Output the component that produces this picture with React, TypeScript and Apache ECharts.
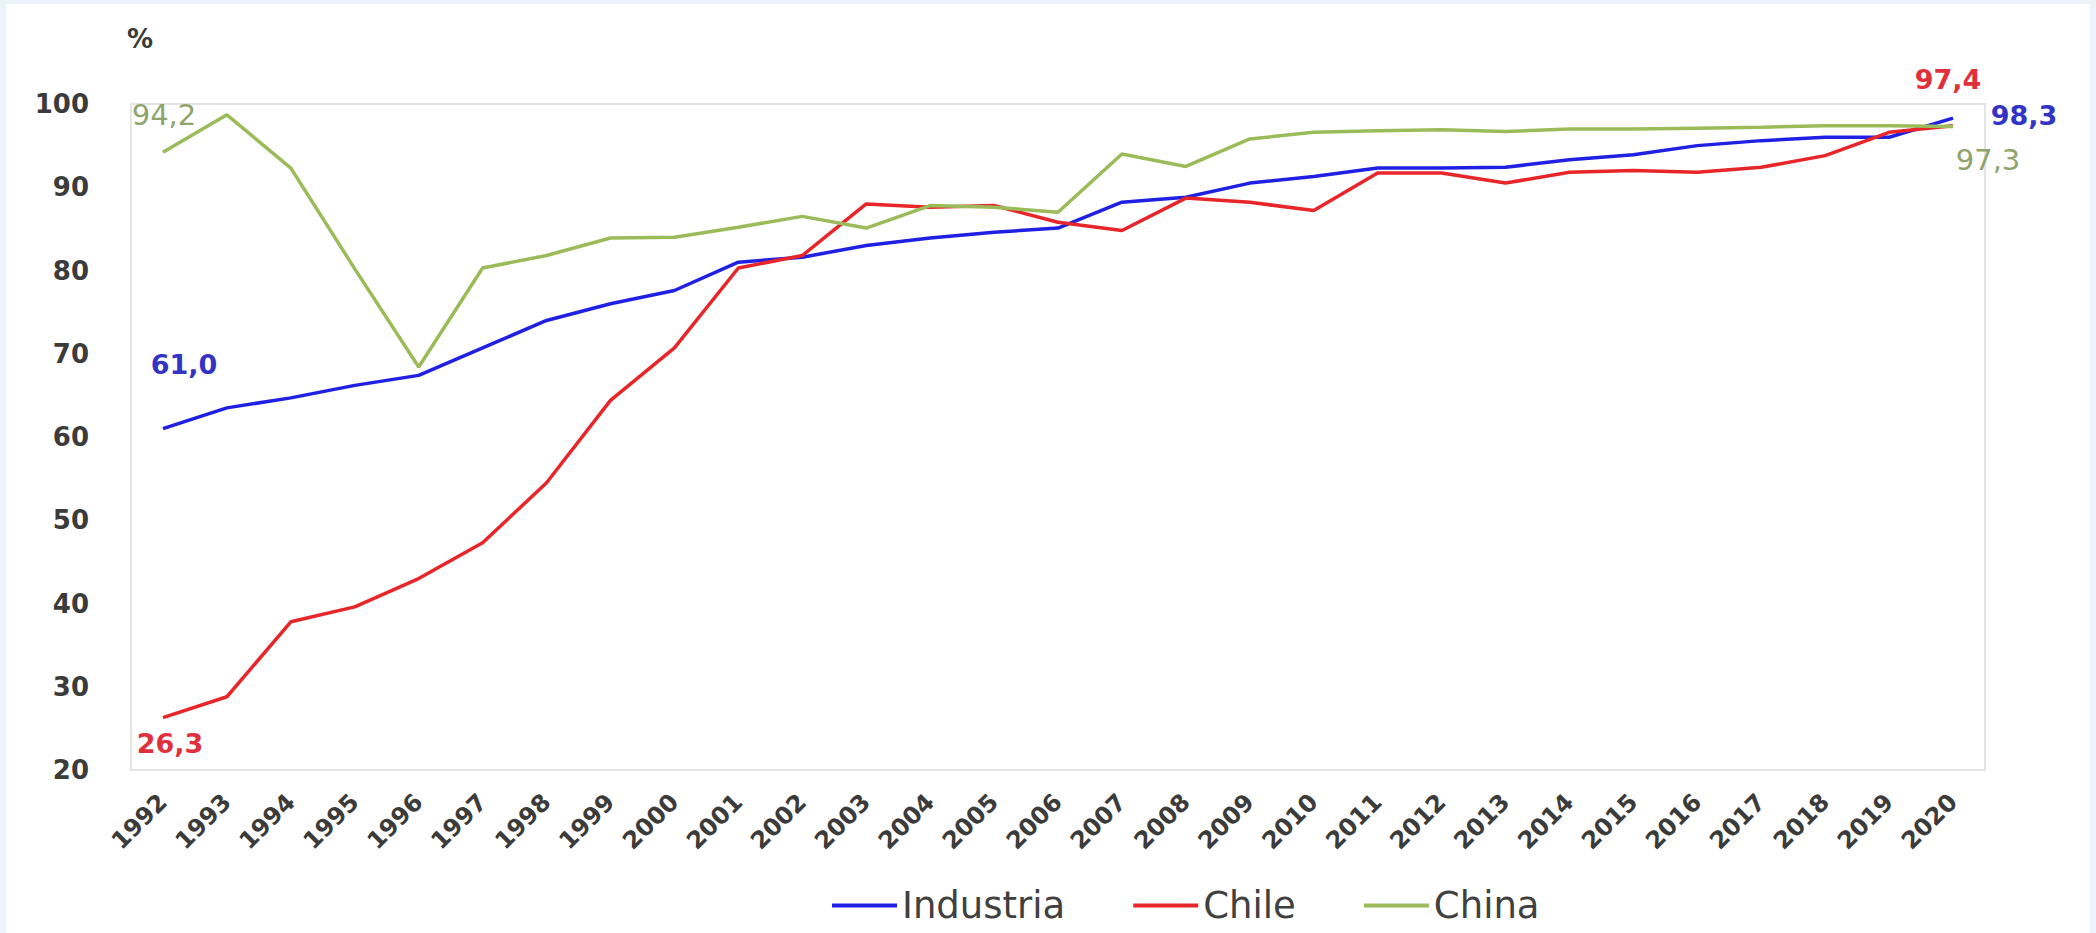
import React, { useEffect, useRef } from "react";
import * as echarts from "echarts";

const years = [
  "1992", "1993", "1994", "1995", "1996", "1997", "1998", "1999", "2000", "2001",
  "2002", "2003", "2004", "2005", "2006", "2007", "2008", "2009", "2010", "2011",
  "2012", "2013", "2014", "2015", "2016", "2017", "2018", "2019", "2020",
];

const industria = [
  61.0, 63.5, 64.7, 66.2, 67.4, 70.7, 74.0, 76.0, 77.6, 81.0,
  81.6, 83.0, 83.9, 84.6, 85.1, 88.2, 88.8, 90.5, 91.3, 92.3,
  92.3, 92.4, 93.3, 93.9, 95.0, 95.6, 96.0, 96.0, 98.3,
];

const chile = [
  26.3, 28.8, 37.8, 39.6, 43.0, 47.3, 54.5, 64.4, 70.7, 80.3,
  81.8, 88.0, 87.6, 87.8, 85.8, 84.8, 88.7, 88.2, 87.2, 91.7,
  91.7, 90.5, 91.8, 92.0, 91.8, 92.4, 93.8, 96.6, 97.4,
];

const china = [
  94.2, 98.7, 92.3, 80.2, 68.4, 80.3, 81.8, 83.9, 84.0, 85.2,
  86.5, 85.1, 87.8, 87.6, 87.0, 94.0, 92.5, 95.8, 96.6, 96.8,
  96.9, 96.7, 97.0, 97.0, 97.1, 97.2, 97.4, 97.4, 97.3,
];

const seriesNames = ["Industria", "Chile", "China"];
const lineColors = ["#2020e4", "#e8262a", "#9bbb59"];
const labelColors = ["#3434c4", "#e0303c", "#8fa46c"];

const fmt = (v: number) => v.toFixed(1).replace(".", ",");

function withEndLabels(
  values: number[],
  color: string,
  weight: string,
  size: number,
  firstOffset: number[],
  lastOffset: number[]
) {
  const last = values.length - 1;
  return values.map((v, i) => {
    if (i !== 0 && i !== last) return v;
    return {
      value: v,
      label: {
        show: true,
        position: "inside",
        align: "center",
        verticalAlign: "middle",
        offset: i === 0 ? firstOffset : lastOffset,
        formatter: () => fmt(v),
        color,
        fontFamily: "DejaVu Sans",
        fontWeight: weight,
        fontSize: size,
      },
    };
  });
}

export default function App() {
  const ref = useRef<HTMLDivElement>(null);

  useEffect(() => {
    if (!ref.current) return;
    const chart = echarts.init(ref.current, undefined, { renderer: "svg" });

    const mkSeries = (name: string, data: any[], color: string) => ({
      name,
      type: "line",
      data,
      symbol: "circle",
      symbolSize: 0.1,
      showSymbol: true,
      showAllSymbol: true,
      lineStyle: { color, width: 3.5 },
      itemStyle: { color },
      emphasis: { disabled: true },
      z: 3,
    });

    chart.setOption({
      animation: false,
      backgroundColor: "#ecf2fa",
      graphic: [
        {
          type: "rect",
          left: 6,
          top: 4,
          z: -10,
          shape: { width: 2084, height: 929 },
          style: { fill: "#ffffff" },
        },
        {
          type: "text",
          left: 127,
          top: 26,
          style: {
            text: "%",
            font: 'bold 26px "DejaVu Sans"',
            fill: "#3b3b3b",
          },
        },
      ],
      grid: {
        left: 131,
        top: 104,
        width: 1854,
        height: 666,
        show: true,
        borderColor: "#e4e4e4",
        borderWidth: 2,
        backgroundColor: "transparent",
      },
      legend: {
        left: 827,
        top: 882,
        itemWidth: 65,
        itemHeight: 4,
        itemGap: 68,
        icon: "rect",
        selectedMode: false,
        textStyle: {
          fontFamily: "DejaVu Sans",
          fontSize: 37,
          color: "#404040",
        },
        data: seriesNames.map((n, i) => ({ name: n, itemStyle: { color: lineColors[i] } })),
      },
      xAxis: {
        type: "category",
        data: years,
        boundaryGap: true,
        axisLine: { show: false },
        axisTick: { show: false },
        splitLine: { show: false },
        axisLabel: {
          interval: 0,
          rotate: 45,
          margin: 28,
          fontFamily: "DejaVu Sans",
          fontWeight: "bold",
          fontSize: 24,
          color: "#3b3b3b",
        },
      },
      yAxis: {
        type: "value",
        min: 20,
        max: 100,
        interval: 10,
        axisLine: { show: false },
        axisTick: { show: false },
        splitLine: { show: false },
        axisLabel: {
          margin: 42,
          fontFamily: "DejaVu Sans",
          fontWeight: "bold",
          fontSize: 26,
          color: "#3b3b3b",
        },
      },
      series: [
        mkSeries(
          seriesNames[0],
          withEndLabels(industria, labelColors[0], "bold", 27, [21, -64], [71, -3]),
          lineColors[0]
        ),
        mkSeries(
          seriesNames[1],
          withEndLabels(chile, labelColors[1], "bold", 27, [7, 26], [-5, -46]),
          lineColors[1]
        ),
        mkSeries(
          seriesNames[2],
          withEndLabels(china, labelColors[2], "normal", 29, [1, -37], [35, 34]),
          lineColors[2]
        ),
      ],
    });

    return () => chart.dispose();
  }, []);

  return (
    <div
      ref={ref}
      style={{ position: "fixed", left: 0, top: 0, width: 2096, height: 933 }}
    />
  );
}
